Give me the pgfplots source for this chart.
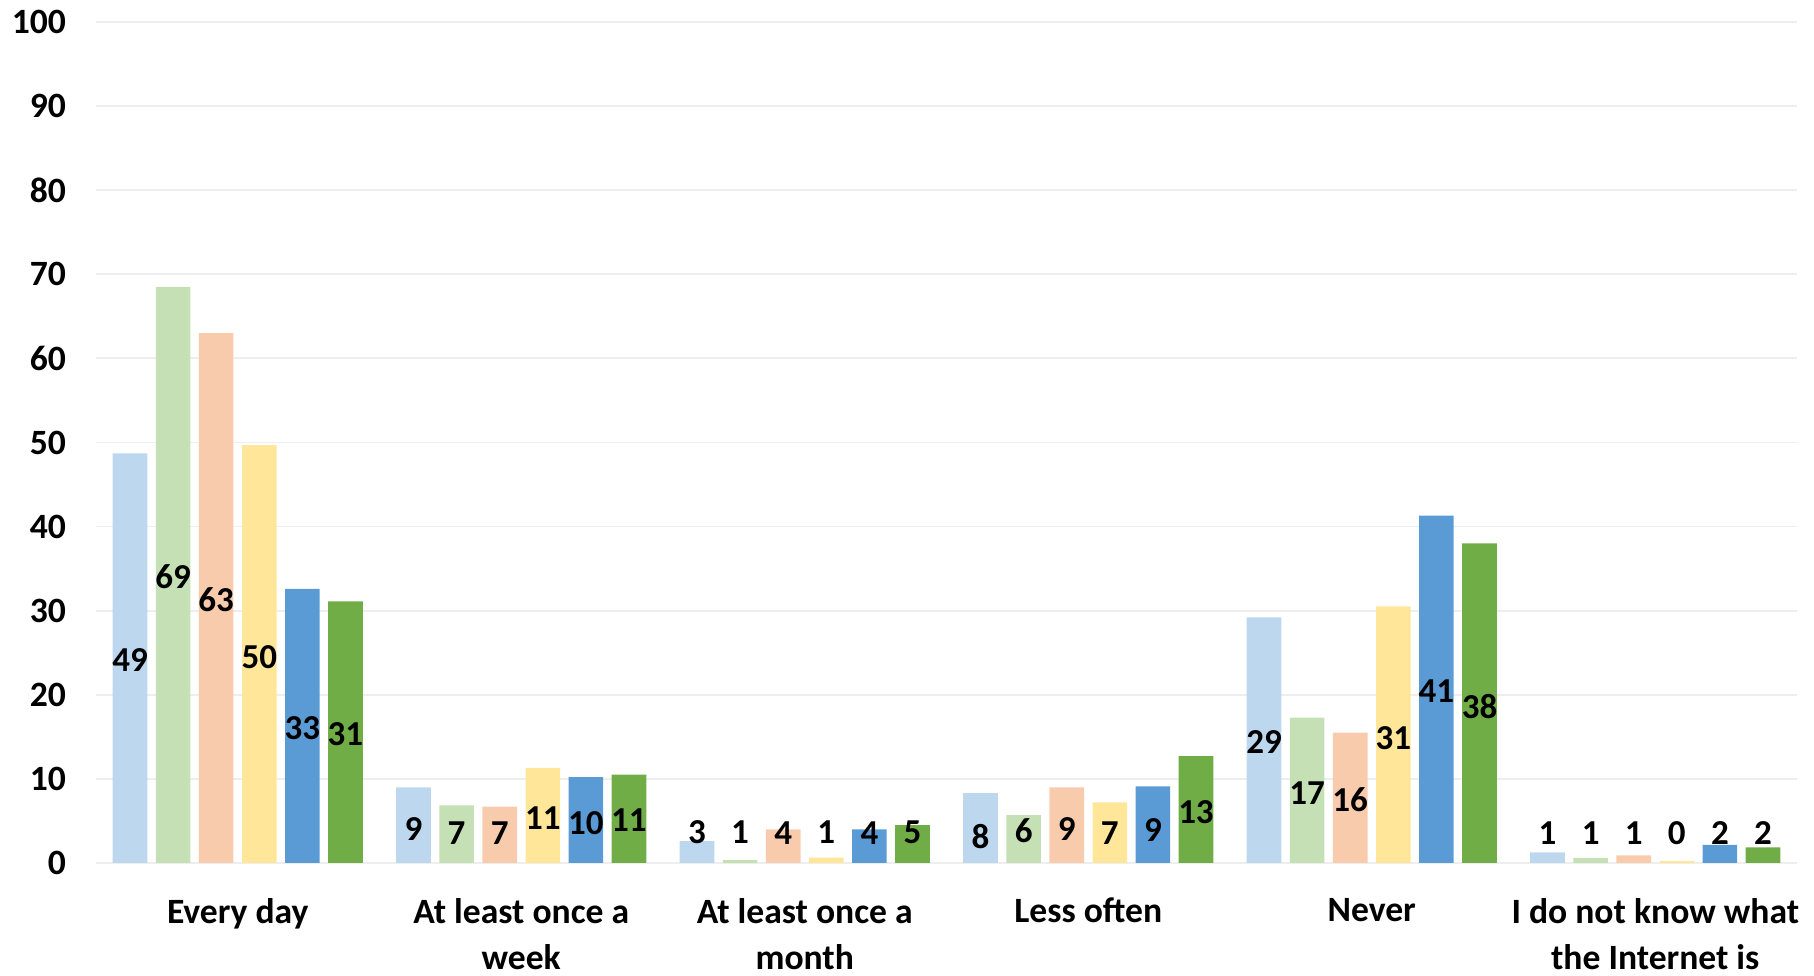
\documentclass[border=0pt]{standalone}
\usepackage{fontspec}
\setmainfont{Carlito}
\usepackage{pgfplots}
\usepackage{pgfplotstable}
\pgfplotsset{compat=1.18}
\definecolor{cA}{HTML}{BDD7EE}
\definecolor{cB}{HTML}{C5E0B4}
\definecolor{cC}{HTML}{F8CBAD}
\definecolor{cD}{HTML}{FFE699}
\definecolor{cE}{HTML}{5B9BD5}
\definecolor{cF}{HTML}{70AD47}
\definecolor{gridc}{HTML}{EEEEEE}

\pgfplotstableread{
x val laby lab
0 48.7 24.1 49
1 9.0 4.0 9
2 2.6 3.65 3
3 8.3 3.1 8
4 29.2 14.4 29
5 1.25 3.6 1
}\sA
\pgfplotstableread{
x val laby lab
0 68.5 34.1 69
1 6.85 3.5 7
2 0.35 3.65 1
3 5.7 3.8 6
4 17.3 8.3 17
5 0.6 3.6 1
}\sB
\pgfplotstableread{
x val laby lab
0 63.0 31.3 63
1 6.7 3.5 7
2 4.0 3.6 4
3 9.0 4.0 9
4 15.5 7.5 16
5 0.9 3.6 1
}\sC
\pgfplotstableread{
x val laby lab
0 49.7 24.5 50
1 11.3 5.3 11
2 0.65 3.65 1
3 7.2 3.6 7
4 30.5 14.8 31
5 0.25 3.6 0
}\sD
\pgfplotstableread{
x val laby lab
0 32.6 16.0 33
1 10.2 4.7 10
2 4.0 3.6 4
3 9.1 3.9 9
4 41.3 20.4 41
5 2.15 3.6 2
}\sE
\pgfplotstableread{
x val laby lab
0 31.1 15.3 31
1 10.5 5.1 11
2 4.5 3.6 5
3 12.7 6.1 13
4 38.0 18.6 38
5 1.85 3.6 2
}\sF

\begin{document}
\begin{tikzpicture}
\begin{axis}[
  name=ax,
  scale only axis,
  width=850.5pt, height=420.5pt,
  xmin=-0.5, xmax=5.5, ymin=0, ymax=100,
  ytick={0,10,...,100},
  xtick={0,1,2,3,4,5},
  xticklabels={Every day,{At least once a\\week},{At least once a\\month},Less often,Never,{I do not know what\\the Internet is}},
  ymajorgrids,
  grid style={draw=gridc, line width=0.9pt},
  axis line style={draw=none},
  tick style={draw=none},
  /pgf/number format/assume math mode=true,
  ticklabel style={font=\fontsize{17.8}{23}\selectfont\bfseries},
  xticklabel style={align=center, anchor=north, yshift=-14pt},
  yticklabel style={anchor=east, xshift=-11.5pt},
  clip=false,
  every node near coord/.append style={font=\fontsize{17.5}{20}\selectfont\bfseries, anchor=center, text=black},
  lbl/.style={only marks, mark=*, mark size=0pt, mark options={draw=none,fill=none}, nodes near coords, point meta=explicit symbolic},
]
\addplot[ybar, bar width=0.122, bar shift=-0.38, fill=cA, draw=none] table[x=x,y=val]{\sA};
\addplot[ybar, bar width=0.122, bar shift=-0.228, fill=cB, draw=none] table[x=x,y=val]{\sB};
\addplot[ybar, bar width=0.122, bar shift=-0.076, fill=cC, draw=none] table[x=x,y=val]{\sC};
\addplot[ybar, bar width=0.122, bar shift=0.076, fill=cD, draw=none] table[x=x,y=val]{\sD};
\addplot[ybar, bar width=0.122, bar shift=0.228, fill=cE, draw=none] table[x=x,y=val]{\sE};
\addplot[ybar, bar width=0.122, bar shift=0.38, fill=cF, draw=none] table[x=x,y=val]{\sF};

\addplot[lbl] table[x expr=\thisrow{x}-0.38, y=laby, meta=lab]{\sA};
\addplot[lbl] table[x expr=\thisrow{x}-0.228, y=laby, meta=lab]{\sB};
\addplot[lbl] table[x expr=\thisrow{x}-0.076, y=laby, meta=lab]{\sC};
\addplot[lbl] table[x expr=\thisrow{x}+0.076, y=laby, meta=lab]{\sD};
\addplot[lbl] table[x expr=\thisrow{x}+0.228, y=laby, meta=lab]{\sE};
\addplot[lbl] table[x expr=\thisrow{x}+0.38, y=laby, meta=lab]{\sF};
\end{axis}
\path ([xshift=-48pt,yshift=-55.5pt]ax.south west) rectangle ([xshift=8.5pt,yshift=11pt]ax.north east);
\end{tikzpicture}
\end{document}
